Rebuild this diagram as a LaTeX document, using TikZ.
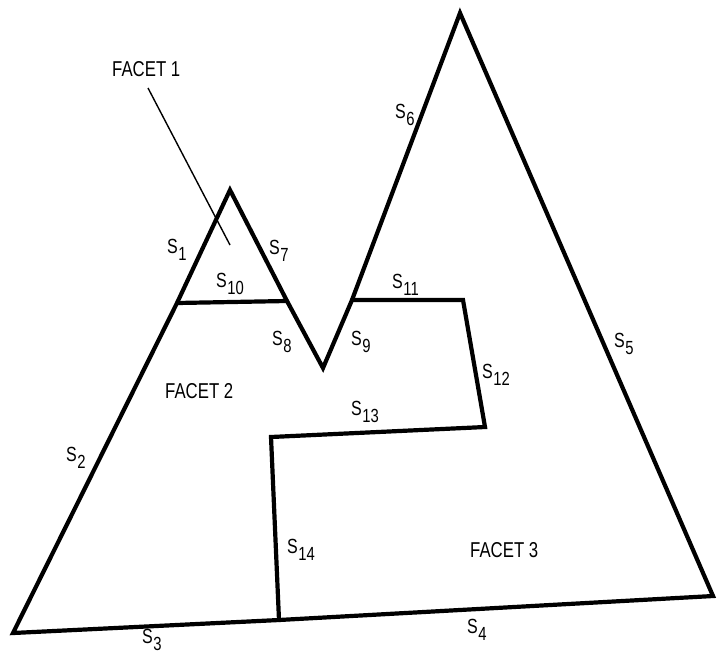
\documentclass[tikz,border=0pt]{standalone}
\usepackage{fontspec}
\setmainfont{Liberation Sans}[FakeStretch=0.78]
\newcommand\slab[1]{S\kern0.5pt\raisebox{-7.5pt}{\fontsize{19}{19}\selectfont #1}}
\tikzset{
  edge/.style={line width=4.2pt, line join=miter, line cap=round},
  leader/.style={line width=1.4pt},
  lab/.style={anchor=base west, inner sep=0pt, font=\fontsize{20.5}{20.5}\selectfont},
  facet/.style={anchor=base west, inner sep=0pt, font=\fontsize{21.5}{21.5}\selectfont}
}
\begin{document}
\begin{tikzpicture}[x=1pt,y=-1pt]
\useasboundingbox (0,0) rectangle (719,654);
% vertices
\coordinate (A) at (13,633);
\coordinate (B) at (177,303);
\coordinate (C) at (230,190);
\coordinate (D) at (287,301);
\coordinate (E) at (323,368);
\coordinate (F) at (352,300);
\coordinate (G) at (460,13);
\coordinate (H) at (713,596);
\coordinate (I) at (463,300);
\coordinate (J) at (485,427);
\coordinate (K) at (271,437);
\coordinate (L) at (279,620);
% outline
\draw[edge] (A) -- (B) -- (C) -- (D) -- (E) -- (F) -- (G) -- (H) -- (L) -- cycle;
\draw[edge] (B) -- (D);
\draw[edge] (F) -- (I) -- (J) -- (K) -- (L);
% leader
\coordinate (f1tail) at (148,88);
\coordinate (f1head) at (230,245);
\draw[leader] (f1tail) -- (f1head);
% facet labels
\node[facet] (facet1) at (112,76) {FACET 1};
\node[facet] (facet2) at (165,398) {FACET 2};
\node[facet] (facet3) at (470,557) {FACET 3};
% side labels
\node[lab] (s1) at (167,253) {\slab{1}};
\node[lab] (s2) at (66,461) {\slab{2}};
\node[lab] (s3) at (142,643) {\slab{3}};
\node[lab] (s4) at (467,633) {\slab{4}};
\node[lab] (s5) at (614,347) {\slab{5}};
\node[lab] (s6) at (395,118) {\slab{6}};
\node[lab] (s7) at (269,254) {\slab{7}};
\node[lab] (s8) at (272,345) {\slab{8}};
\node[lab] (s9) at (351,345) {\slab{9}};
\node[lab] (s10) at (216,287) {\slab{10}};
\node[lab] (s11) at (392,288) {\slab{11}};
\node[lab] (s12) at (482,378) {\slab{12}};
\node[lab] (s13) at (351,415) {\slab{13}};
\node[lab] (s14) at (287,553) {\slab{14}};
\end{tikzpicture}
\end{document}
